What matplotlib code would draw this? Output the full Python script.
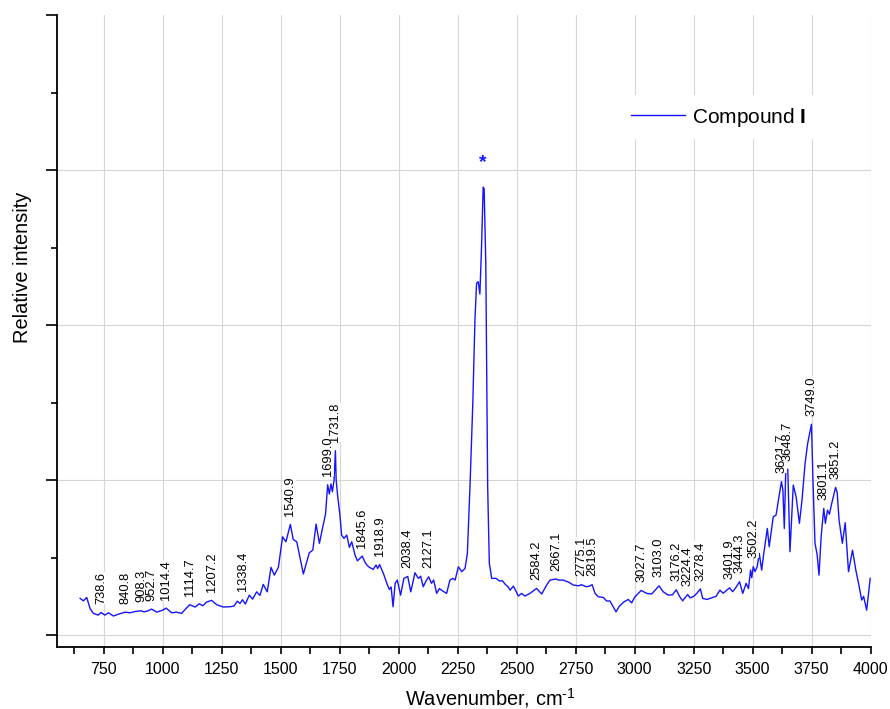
import numpy as np
import matplotlib
matplotlib.use("Agg")
import matplotlib.pyplot as plt
from matplotlib.ticker import MultipleLocator

plt.rcParams['font.family'] = ['Liberation Sans', 'DejaVu Sans']
plt.rcParams['mathtext.fontset'] = 'custom'
plt.rcParams['mathtext.rm'] = 'Liberation Sans'
plt.rcParams['mathtext.it'] = 'Liberation Sans:italic'
plt.rcParams['mathtext.bf'] = 'Liberation Sans:bold'

# Raman/IR spectrum of compound I (wavenumber in cm^-1, relative intensity)
wavenumber = [
    650, 664, 678, 692, 706, 727, 738.6, 755, 770, 791, 812, 840.8, 861, 883,
    908.3, 920, 935, 952.7, 975, 1000, 1014.4, 1038, 1059, 1080, 1099, 1114.7,
    1137, 1155, 1170, 1186, 1207.2, 1229, 1257, 1285, 1302, 1316, 1327, 1338.4,
    1350, 1367, 1381, 1398, 1412, 1426, 1443, 1459, 1473, 1490, 1508, 1522,
    1540.9, 1553, 1568, 1596, 1621, 1636, 1650, 1664, 1680, 1690, 1699.0, 1706,
    1713, 1719, 1726, 1731.8, 1735, 1741, 1751, 1758, 1768, 1780, 1791, 1801,
    1815, 1825, 1845.6, 1856, 1865, 1876, 1892, 1904, 1911, 1918.9, 1935, 1949,
    1960, 1968, 1976, 1985, 1994, 2008, 2022, 2038.4, 2051, 2069, 2083, 2093,
    2104, 2116, 2127.1, 2139, 2148, 2161, 2172, 2186, 2203, 2217, 2229, 2239,
    2253, 2267, 2281, 2291, 2302, 2314, 2323, 2330, 2337, 2344, 2351, 2358,
    2362, 2369, 2373, 2377, 2384, 2394, 2412, 2426, 2440, 2450, 2464, 2472,
    2486, 2507, 2521, 2535, 2556, 2584.2, 2606, 2627, 2641, 2667.1, 2676, 2697,
    2719, 2740, 2761, 2775.1, 2794, 2808, 2819.5, 2832, 2846, 2867, 2881, 2895,
    2909, 2921, 2935, 2955, 2973, 2987, 3001, 3027.7, 3051, 3072, 3103.0, 3121,
    3142, 3160, 3176.2, 3190, 3203, 3224.4, 3235, 3250, 3263, 3278.4, 3288,
    3306, 3327, 3345, 3361, 3375, 3390, 3401.9, 3415, 3430, 3444.3, 3458, 3472,
    3482, 3491, 3496, 3502.2, 3510, 3519, 3528, 3538, 3548, 3562, 3570, 3587,
    3599, 3621.7, 3628, 3634, 3640, 3648.7, 3658, 3672, 3684, 3698, 3709, 3722,
    3733, 3749.0, 3755, 3764, 3773, 3781, 3790, 3801.1, 3808, 3817, 3825, 3835,
    3851.2, 3858, 3866, 3880, 3892, 3906, 3923, 3937, 3949, 3962, 3970, 3983,
    3998,
]
intensity = [
    0.237, 0.221, 0.243, 0.172, 0.140, 0.129, 0.146, 0.129, 0.144, 0.123, 0.135,
    0.148, 0.144, 0.152, 0.157, 0.150, 0.155, 0.168, 0.148, 0.161, 0.174, 0.144,
    0.148, 0.140, 0.172, 0.196, 0.181, 0.202, 0.189, 0.213, 0.224, 0.196, 0.181,
    0.183, 0.187, 0.219, 0.204, 0.228, 0.200, 0.258, 0.232, 0.279, 0.256, 0.327,
    0.279, 0.437, 0.387, 0.437, 0.634, 0.602, 0.714, 0.617, 0.602, 0.394, 0.531,
    0.548, 0.716, 0.592, 0.710, 0.780, 0.970, 0.910, 0.975, 0.925, 1.000, 1.190,
    1.000, 0.903, 0.774, 0.645, 0.624, 0.645, 0.566, 0.602, 0.516, 0.479, 0.510,
    0.473, 0.452, 0.437, 0.424, 0.452, 0.430, 0.455, 0.398, 0.337, 0.295, 0.310,
    0.183, 0.334, 0.355, 0.258, 0.366, 0.378, 0.279, 0.402, 0.366, 0.380, 0.312,
    0.350, 0.376, 0.334, 0.355, 0.269, 0.300, 0.285, 0.269, 0.355, 0.366, 0.355,
    0.441, 0.409, 0.430, 0.527, 0.957, 1.495, 2.030, 2.270, 2.280, 2.200, 2.505,
    2.890, 2.880, 2.400, 1.710, 0.957, 0.463, 0.366, 0.366, 0.350, 0.350, 0.330,
    0.310, 0.290, 0.316, 0.252, 0.269, 0.252, 0.269, 0.301, 0.265, 0.323, 0.355,
    0.362, 0.355, 0.355, 0.342, 0.323, 0.318, 0.325, 0.312, 0.316, 0.325, 0.269,
    0.247, 0.243, 0.220, 0.220, 0.183, 0.150, 0.187, 0.215, 0.230, 0.208, 0.247,
    0.288, 0.269, 0.265, 0.318, 0.279, 0.258, 0.260, 0.292, 0.250, 0.221, 0.262,
    0.240, 0.250, 0.269, 0.298, 0.237, 0.230, 0.241, 0.250, 0.290, 0.270, 0.290,
    0.305, 0.280, 0.310, 0.344, 0.269, 0.334, 0.300, 0.420, 0.370, 0.441, 0.410,
    0.441, 0.527, 0.419, 0.538, 0.688, 0.570, 0.763, 0.774, 0.990, 0.935, 0.688,
    1.054, 1.070, 0.538, 0.968, 0.892, 0.721, 0.871, 1.108, 1.237, 1.360, 1.020,
    0.592, 0.520, 0.387, 0.634, 0.817, 0.721, 0.806, 0.780, 0.850, 0.953, 0.920,
    0.742, 0.592, 0.725, 0.409, 0.548, 0.419, 0.330, 0.226, 0.250, 0.161, 0.366,
]

# Labelled band positions
peak_positions = [
    738.6, 840.8, 908.3, 952.7, 1014.4, 1114.7, 1207.2, 1338.4, 1540.9, 1699.0,
    1731.8, 1845.6, 1918.9, 2038.4, 2127.1, 2584.2, 2667.1, 2775.1, 2819.5,
    3027.7, 3103.0, 3176.2, 3224.4, 3278.4, 3401.9, 3444.3, 3502.2, 3621.7,
    3648.7, 3749.0, 3801.1, 3851.2,
]

series_name = "Compound $\\mathbf{I}$"
line_color = "#1414ff"

fig = plt.figure(figsize=(8.9, 7.09), dpi=100)
ax = fig.add_axes([0.0635, 0.0874, 0.9148, 0.8914])

ax.plot(wavenumber, intensity, color=line_color, lw=1.0, label=series_name, zorder=3)

ax.set_xlim(550, 4000)
ax.set_ylim(-0.077, 4.0)
ax.set_xticks(np.arange(750, 4001, 250))
ax.xaxis.set_minor_locator(MultipleLocator(125))
ax.set_yticks([0, 1, 2, 3, 4])
ax.yaxis.set_minor_locator(MultipleLocator(0.5))

ax.grid(True, which='major', color='#d6d6d6', lw=0.8, zorder=0)
ax.set_axisbelow(True)
ax.yaxis.get_major_ticks()[-1].gridline.set_visible(False)

for side in ('top', 'right'):
    ax.spines[side].set_visible(False)
for side in ('left', 'bottom'):
    ax.spines[side].set_linewidth(1.3)

ax.tick_params(axis='x', which='both', direction='out', length=5, width=1.2,
               labelsize=11.5, pad=5.5)
ax.tick_params(axis='y', which='major', direction='out', length=8, width=1.2,
               labelleft=False)
ax.tick_params(axis='y', which='minor', direction='out', length=4.3, width=1.2)

ax.set_xlabel('Wavenumber, cm$^{\\text{-}1}$', fontsize=14.4)
ax.xaxis.set_label_coords(0.533, -0.062)
ax.set_ylabel('Relative intensity', fontsize=14.4)
ax.yaxis.set_label_coords(-0.0305, 0.601)

# Band labels above the spectrum
for p in peak_positions:
    y = np.interp(p, wavenumber, intensity)
    ax.annotate(f"{p:.1f}", xy=(p, y), xytext=(0, 6), textcoords='offset points',
                rotation=90, ha='center', va='bottom', fontsize=9.3, zorder=4,
                bbox=dict(fc='white', ec='none', pad=0))

# Mark the strongest band
imax = int(np.argmax(intensity))
ax.annotate('*', xy=(wavenumber[imax], intensity[imax]), xytext=(0, 17.5),
            textcoords='offset points', ha='center', va='center',
            fontsize=14, fontweight='bold', color=line_color, zorder=4)

leg = ax.legend(loc='center', bbox_to_anchor=(0.813, 0.8386), fontsize=15,
                handlelength=2.6, handletextpad=0.35, frameon=True,
                fancybox=False, framealpha=1.0, edgecolor='none',
                facecolor='white', borderpad=0.5)

fig.savefig('out.png', dpi=100)
